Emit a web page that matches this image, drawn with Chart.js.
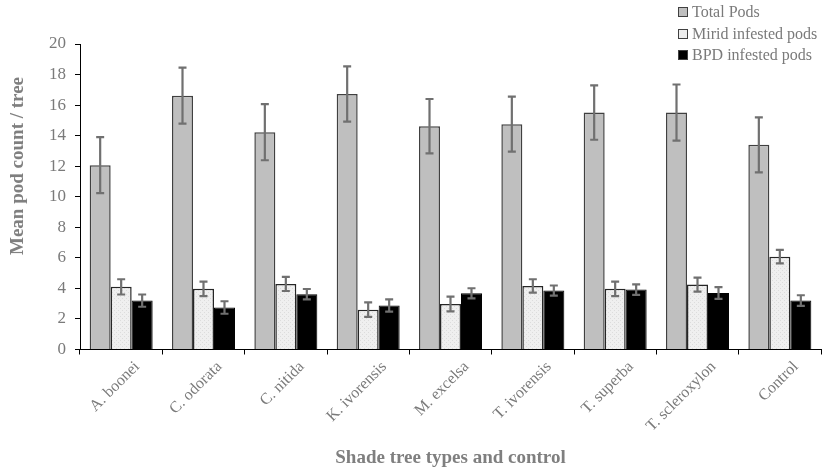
<!DOCTYPE html>
<html>
<head>
<meta charset="utf-8">
<script src="https://cdn.jsdelivr.net/npm/chart.js@4"></script>
<style>
  body { margin: 0; background: #fff; }
  #wrap { position: relative; width: 822px; height: 469px; }
  #legend {
    position: absolute; left: 678px; top: 1px;
    font: 16px "Liberation Serif", "Times New Roman", serif; color: #7a7a7a;
  }
  #legend div { height: 21.5px; line-height: 21.5px; white-space: nowrap; }
  #legend span {
    display: inline-block; width: 8px; height: 8px; margin-right: 4px;
    border: 1px solid #404040; vertical-align: 0px;
  }
  #ytitle {
    position: absolute; left: 17px; top: 166px;
    transform: translate(-50%, -50%) rotate(-90deg);
    font: bold 19px "Liberation Serif", "Times New Roman", serif; color: #7f7f7f;
    white-space: nowrap;
  }
</style>
</head>
<body>
<div id="wrap">
  <canvas id="podChart" width="822" height="469"></canvas>
  <div id="ytitle">Mean pod count / tree</div>
  <div id="legend">
    <div><span style="background:#bfbfbf"></span>Total Pods</div>
    <div><span style="background:#ededed"></span>Mirid infested pods</div>
    <div><span style="background:#000"></span>BPD infested pods</div>
  </div>
</div>
<script>
// Data
const categories = ['A. boonei', 'C. odorata', 'C. nitida', 'K. ivorensis', 'M. excelsa',
                    'T. ivorensis', 'T. superba', 'T. scleroxylon', 'Control'];
const totalPods = [12.07, 16.62, 14.23, 16.73, 14.62, 14.75, 15.51, 15.51, 13.4];
const totalErr  = [1.83, 1.83, 1.84, 1.81, 1.78, 1.8, 1.78, 1.84, 1.8];
const miridPods = [4.1, 3.97, 4.29, 2.61, 2.98, 4.16, 3.97, 4.25, 6.08];
const miridErr  = [0.5, 0.47, 0.46, 0.47, 0.48, 0.44, 0.47, 0.46, 0.44];
const bpdPods   = [3.2, 2.75, 3.62, 2.88, 3.68, 3.86, 3.92, 3.7, 3.2];
const bpdErr    = [0.4, 0.41, 0.34, 0.4, 0.33, 0.33, 0.34, 0.39, 0.35];
const yTicks    = [0, 2, 4, 6, 8, 10, 12, 14, 16, 18, 20];

const textGray = '#7a7a7a';
const serif = '"Liberation Serif", "Times New Roman", serif';

// light dotted fill for the mirid bars
function dottedPattern() {
    const c = document.createElement('canvas');
    c.width = 4; c.height = 4;
    const g = c.getContext('2d');
    g.fillStyle = '#efefef';
    g.fillRect(0, 0, 4, 4);
    g.fillStyle = '#dcdcdc';
    g.fillRect(0, 0, 1, 1);
    g.fillRect(2, 2, 1, 1);
    return g.createPattern(c, 'repeat');
}

// error bars drawn from the y scale
const errorBars = {
    id: 'errorBars',
    afterDatasetsDraw(chart) {
        const ctx = chart.ctx;
        const y = chart.scales.y;
        ctx.save();
        ctx.strokeStyle = '#707070';
        ctx.lineWidth = 2.2;
        chart.data.datasets.forEach((ds, i) => {
            chart.getDatasetMeta(i).data.forEach((bar, j) => {
                const top = y.getPixelForValue(ds.data[j] + ds.errors[j]);
                const bot = y.getPixelForValue(ds.data[j] - ds.errors[j]);
                ctx.beginPath();
                ctx.moveTo(bar.x, top); ctx.lineTo(bar.x, bot);
                ctx.moveTo(bar.x - 4, top); ctx.lineTo(bar.x + 4, top);
                ctx.moveTo(bar.x - 4, bot); ctx.lineTo(bar.x + 4, bot);
                ctx.stroke();
            });
        });
        ctx.restore();
    }
};

new Chart(document.getElementById('podChart'), {
    type: 'bar',
    data: {
        labels: categories,
        datasets: [{
            label: 'Total Pods',
            data: totalPods,
            errors: totalErr,
            backgroundColor: '#bfbfbf',
            borderColor: '#404040',
            borderWidth: 1.5
        }, {
            label: 'Mirid infested pods',
            data: miridPods,
            errors: miridErr,
            backgroundColor: dottedPattern(),
            borderColor: '#262626',
            borderWidth: 1.5
        }, {
            label: 'BPD infested pods',
            data: bpdPods,
            errors: bpdErr,
            backgroundColor: '#000000',
            borderColor: '#000000',
            borderWidth: 1
        }]
    },
    options: {
        responsive: false,
        animation: false,
        barPercentage: 1,
        categoryPercentage: 0.765,
        layout: { padding: { left: 0, right: 1, top: 44, bottom: 0 } },
        plugins: {
            legend: { display: false },
            tooltip: { enabled: false }
        },
        scales: {
            x: {
                afterFit(scale) { scale.height = 119.5; },
                grid: { offset: true, drawOnChartArea: false, tickLength: 5, color: '#000' },
                border: { color: '#000', width: 1 },
                ticks: {
                    minRotation: 45, maxRotation: 45,
                    labelOffset: 16,
                    color: textGray,
                    font: { family: serif, size: 16 }
                },
                title: {
                    display: true,
                    text: 'Shade tree types and control',
                    color: '#7f7f7f',
                    font: { family: serif, size: 19, weight: 'bold' },
                    padding: { top: 4, bottom: 0 }
                }
            },
            y: {
                min: 0, max: 20,
                afterFit(scale) { scale.width = 80; },
                afterBuildTicks(scale) { scale.ticks = yTicks.map(v => ({ value: v })); },
                grid: { drawOnChartArea: false, tickLength: 5, color: '#000' },
                border: { color: '#000', width: 1 },
                ticks: {
                    color: textGray,
                    padding: 9,
                    font: { family: serif, size: 17 }
                }
            }
        }
    },
    plugins: [errorBars]
});
</script>
</body>
</html>
